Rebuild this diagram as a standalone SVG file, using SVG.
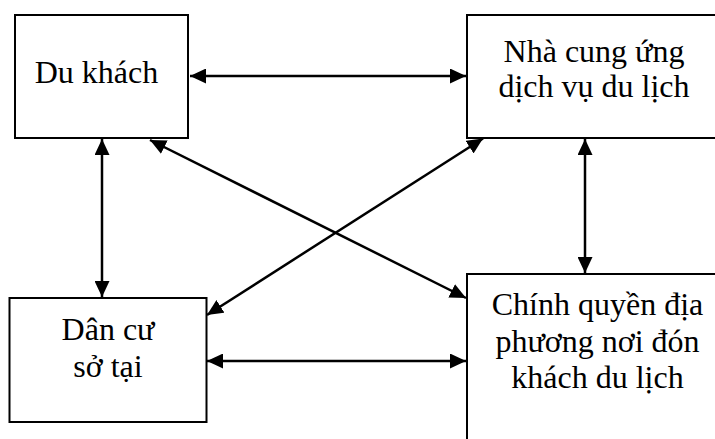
<svg xmlns="http://www.w3.org/2000/svg" width="715" height="439" viewBox="0 0 715 439">
<style>
.box{fill:#fff;stroke:#000;stroke-width:2}
.t{font-family:"Liberation Serif","Times New Roman",serif;font-size:32px;fill:#000;text-anchor:middle}
.c line{stroke:#000;stroke-width:2.5;marker-start:url(#ah);marker-end:url(#ah)}
</style>
<defs>
<marker id="ah" markerUnits="userSpaceOnUse" markerWidth="16" markerHeight="15" refX="16" refY="7.5" orient="auto-start-reverse" viewBox="0 0 16 15">
<path d="M0,0 L16,7.5 L0,15 z" fill="#000"/>
</marker>
</defs>
<rect width="715" height="439" fill="#fff"/>
<g id="du-khach">
<rect class="box" x="15" y="15" width="173" height="123"/>
<text class="t" x="96.5" y="83">Du khách</text>
</g>
<g id="nha-cung-ung">
<rect class="box" x="467" y="15" width="270" height="123"/>
<text class="t" x="594" y="62">Nhà cung ứng</text>
<text class="t" x="594" y="97">dịch vụ du lịch</text>
</g>
<g id="dan-cu">
<rect class="box" x="9.5" y="298" width="197" height="124"/>
<text class="t" x="108" y="340">Dân cư</text>
<text class="t" x="108" y="376.5">sở tại</text>
</g>
<g id="chinh-quyen">
<rect class="box" x="467" y="274" width="270" height="200"/>
<text class="t" x="597.5" y="315">Chính quyền địa</text>
<text class="t" x="597.5" y="351.5">phương nơi đón</text>
<text class="t" x="597.5" y="388">khách du lịch</text>
</g>
<g id="connectors" class="c">
<line x1="190" y1="76" x2="466" y2="76"/>
<line x1="102" y1="139" x2="102" y2="297"/>
<line x1="207" y1="361" x2="466" y2="361"/>
<line x1="585" y1="139" x2="585" y2="273"/>
<line x1="150" y1="140" x2="466" y2="298"/>
<line x1="483" y1="138.5" x2="207" y2="315"/>
</g>
</svg>
